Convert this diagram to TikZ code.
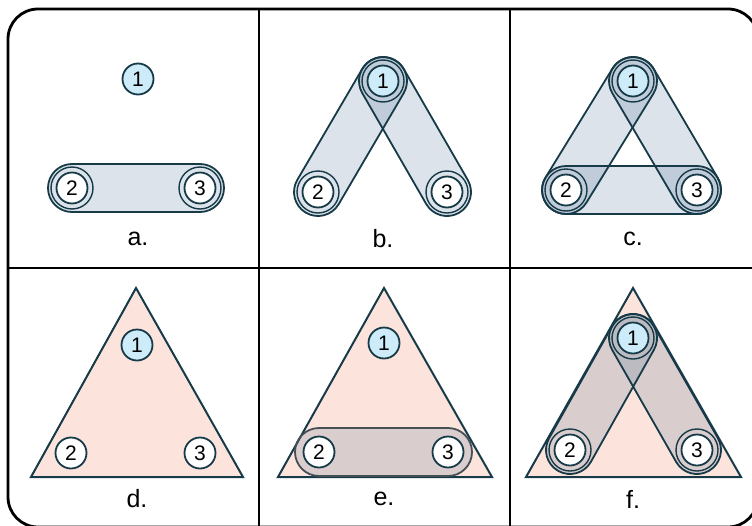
\documentclass[tikz,border=0pt]{standalone}
\usepackage{fontspec}
\setmainfont{Liberation Sans}
\usetikzlibrary{calc}
\definecolor{ink}{HTML}{173A48}
\definecolor{nodeblue}{HTML}{CDEBF8}
\definecolor{edgecol}{RGB}{80,115,150}
\definecolor{peach}{HTML}{FCE4DC}
\definecolor{egray}{HTML}{454F54}
\newcommand\vsz{\fontsize{21}{23}\selectfont}
\newcommand\lsz{\fontsize{25}{28}\selectfont}
\tikzset{
 vtx/.style={circle, draw=ink, line width=1.8pt, fill=white, minimum size=31pt, inner sep=0pt, font=\vsz},
 vtxb/.style={vtx, fill=nodeblue},
 ring/.style={draw=ink, line width=1.4pt},
 efill/.style={fill=edgecol, fill opacity=0.2},
 edraw/.style={draw=ink, line width=1.8pt},
 edrawg/.style={draw=egray, line width=1.8pt},
 tri/.style={fill=peach, draw=ink, line width=2pt, line join=miter},
 panel/.style={font=\lsz},
 frame/.style={line width=2.8pt, draw=black}
}
\newcommand\hpill[3]{%
 \path[#3] let \p1=($(#2)-(#1)$), \n1={atan2(\y1,\x1)}, \n2={veclen(\x1,\y1)} in
 [shift={(#1)}, rotate=\n1] (0,-24) -- (\n2,-24) arc[start angle=-90,end angle=90,radius=24pt] -- (0,24) arc[start angle=90,end angle=270,radius=24pt] -- cycle;}
\begin{document}
\begin{tikzpicture}[x=1pt,y=1pt]
\useasboundingbox (0,0) rectangle (752,-525);
% frame
\draw[frame, rounded corners=30pt] (8,-9) rectangle (758,-527);
\draw[frame] (259,-9) -- (259,-527);
\draw[frame] (510,-9) -- (510,-527);
\draw[frame] (8,-268) -- (758,-268);

% ---------- panel a
\coordinate (a1p) at (138,-79);
\coordinate (a2p) at (72,-188);
\coordinate (a3p) at (200,-188);
\hpill{a2p}{a3p}{efill}
\hpill{a2p}{a3p}{edraw}
\draw[ring] (a2p) circle[radius=21pt];
\draw[ring] (a3p) circle[radius=21pt];
\node[vtxb] (a1) at (a1p) {1};
\node[vtx] (a2) at (a2p) {2};
\node[vtx] (a3) at (a3p) {3};
\node[panel] (la) at (138,-239) {a.};

% ---------- panel b
\coordinate (b1p) at (383,-81);
\coordinate (b2p) at (318,-192);
\coordinate (b3p) at (447,-192);
\hpill{b1p}{b2p}{efill}
\hpill{b1p}{b3p}{efill}
\hpill{b1p}{b2p}{edraw}
\hpill{b1p}{b3p}{edraw}
\foreach \n in {b1p,b2p,b3p}{\draw[ring] (\n) circle[radius=21pt];}
\node[vtxb] (b1) at (b1p) {1};
\node[vtx] (b2) at (b2p) {2};
\node[vtx] (b3) at (b3p) {3};
\node[panel] (lb) at (383,-239) {b.};

% ---------- panel c
\coordinate (c1p) at (633,-81);
\coordinate (c2p) at (566,-190);
\coordinate (c3p) at (697,-190);
\hpill{c1p}{c2p}{efill}
\hpill{c1p}{c3p}{efill}
\hpill{c2p}{c3p}{efill}
\hpill{c1p}{c2p}{edraw}
\hpill{c1p}{c3p}{edraw}
\hpill{c2p}{c3p}{edraw}
\foreach \n in {c1p,c2p,c3p}{\draw[ring] (\n) circle[radius=21pt];}
\node[vtxb] (c1) at (c1p) {1};
\node[vtx] (c2) at (c2p) {2};
\node[vtx] (c3) at (c3p) {3};
\node[panel] (lc) at (633,-239) {c.};

% ---------- panel d
\path[tri] (136,-288) -- (31,-477) -- (243,-477) -- cycle;
\node[vtxb] (d1) at (137,-345) {1};
\node[vtx] (d2) at (71,-453) {2};
\node[vtx] (d3) at (200,-453) {3};
\node[panel] (ld) at (137,-499) {d.};

% ---------- panel e
\path[tri] (384,-288) -- (278,-477) -- (492,-477) -- cycle;
\coordinate (e2p) at (319,-452);
\coordinate (e3p) at (448,-452);
\hpill{e2p}{e3p}{efill}
\hpill{e2p}{e3p}{edrawg}
\node[vtxb] (e1) at (384,-343) {1};
\node[vtx] (e2) at (e2p) {2};
\node[vtx] (e3) at (e3p) {3};
\node[panel] (le) at (384,-499) {e.};

% ---------- panel f
\path[tri] (633,-288) -- (526,-477) -- (741,-477) -- cycle;
\coordinate (f1p) at (633,-338);
\coordinate (f2p) at (570,-450);
\coordinate (f3p) at (697,-450);
\hpill{f1p}{f2p}{efill}
\hpill{f1p}{f3p}{efill}
\hpill{f1p}{f2p}{edraw}
\hpill{f1p}{f3p}{edraw}
\foreach \n in {f1p,f2p,f3p}{\draw[ring] (\n) circle[radius=21pt];}
\node[vtxb] (f1) at (f1p) {1};
\node[vtx] (f2) at (f2p) {2};
\node[vtx] (f3) at (f3p) {3};
\node[panel] (lf) at (633,-499) {f.};
\end{tikzpicture}
\end{document}
